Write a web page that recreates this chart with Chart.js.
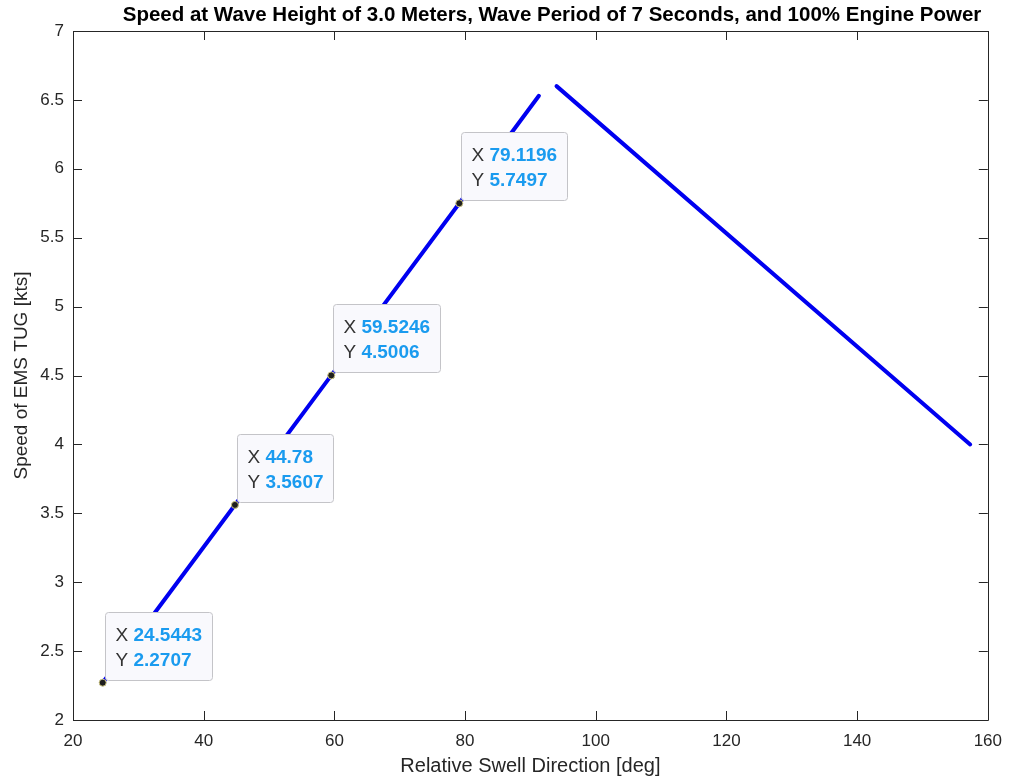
<!DOCTYPE html>
<html>
<head>
<meta charset="utf-8">
<script src="https://cdn.jsdelivr.net/npm/chart.js"></script>
<style>
  html, body { margin: 0; padding: 0; background: #fff; }
  #wrap { width: 1013px; height: 783px; }
</style>
</head>
<body>
<div id="wrap"><canvas id="chart"></canvas></div>
<script>
// speed vs. relative swell direction, rising and falling branches
const swellDirRise = [24.5443, 44.78, 59.5246, 79.1196, 91.3];
const speedRise = [2.2707, 3.5607, 4.5006, 5.7497, 6.53];
const swellDirFall = [94.0, 157.3];
const speedFall = [6.6, 4.0];
// data tips sit on these points of the rising branch
const tipIdx = [0, 1, 2, 3];
const xTicks = [20, 40, 60, 80, 100, 120, 140, 160];
const yTicks = [2, 2.5, 3, 3.5, 4, 4.5, 5, 5.5, 6, 6.5, 7];

const titleText = 'Speed at Wave Height of 3.0 Meters, Wave Period of 7 Seconds, and 100% Engine Power';
const axisCol = '#262626';
const FONT = '"Liberation Sans", Arial, Helvetica, sans-serif';

function pts(xs, ys) {
    return xs.map((x, i) => ({x: x, y: ys[i]}));
}

// box outline with inward ticks on all four sides, plus the title
const framePlugin = {
    id: 'frame',
    afterDraw(chart) {
        const ctx = chart.ctx;
        const a = chart.chartArea;
        const xs = chart.scales.x, ys = chart.scales.y;
        const tl = 9;
        ctx.save();
        ctx.strokeStyle = axisCol;
        ctx.lineWidth = 1;
        ctx.beginPath();
        ctx.rect(Math.round(a.left) + 0.5, Math.round(a.top) + 0.5,
                 Math.round(a.right - a.left), Math.round(a.bottom - a.top));
        xTicks.forEach(v => {
            const px = Math.round(xs.getPixelForValue(v)) + 0.5;
            ctx.moveTo(px, a.bottom); ctx.lineTo(px, a.bottom - tl);
            ctx.moveTo(px, a.top); ctx.lineTo(px, a.top + tl);
        });
        yTicks.forEach(v => {
            const py = Math.round(ys.getPixelForValue(v)) + 0.5;
            ctx.moveTo(a.left, py); ctx.lineTo(a.left + tl, py);
            ctx.moveTo(a.right, py); ctx.lineTo(a.right - tl, py);
        });
        ctx.stroke();

        ctx.fillStyle = '#000';
        ctx.font = 'bold 20.5px ' + FONT;
        ctx.textAlign = 'center';
        ctx.textBaseline = 'middle';
        ctx.fillText(titleText, 552, 15);
        ctx.restore();
    }
};

// data tip boxes with marker dots
const tipPlugin = {
    id: 'tips',
    afterDatasetsDraw(chart) {
        const ctx = chart.ctx;
        const xs = chart.scales.x, ys = chart.scales.y;
        ctx.save();
        tipIdx.forEach(i => {
            const px = xs.getPixelForValue(swellDirRise[i]);
            const py = ys.getPixelForValue(speedRise[i]);
            const rows = [['X ', String(swellDirRise[i])], ['Y ', String(speedRise[i])]];
            ctx.font = '19px ' + FONT;
            const lw = ctx.measureText('X ').width;
            ctx.font = 'bold 19px ' + FONT;
            const vw = Math.max(...rows.map(r => ctx.measureText(r[1]).width));
            const w = Math.round(lw + vw + 20);
            const h = 68;
            const bx = Math.round(px) + 2.5;
            const by = Math.round(py) - 2.5 - h;

            ctx.beginPath();
            ctx.roundRect(bx, by, w, h, 3);
            ctx.fillStyle = '#f9f9fd';
            ctx.fill();
            ctx.strokeStyle = '#c4c4c8';
            ctx.lineWidth = 1;
            ctx.stroke();

            ctx.textBaseline = 'middle';
            ctx.textAlign = 'left';
            rows.forEach((r, k) => {
                const ty = by + 23 + k * 25;
                ctx.font = '19px ' + FONT;
                ctx.fillStyle = '#333333';
                ctx.fillText(r[0], bx + 10, ty);
                ctx.font = 'bold 19px ' + FONT;
                ctx.fillStyle = '#1a9bef';
                ctx.fillText(r[1], bx + 10 + lw, ty);
            });

            ctx.beginPath();
            ctx.arc(px, py, 3.5, 0, Math.PI * 2);
            ctx.fillStyle = '#1e1e1e';
            ctx.fill();
            ctx.strokeStyle = '#c8c080';
            ctx.lineWidth = 1;
            ctx.stroke();
        });
        ctx.restore();
    }
};

new Chart(document.getElementById('chart'), {
    type: 'scatter',
    data: {
        datasets: [{
            data: pts(swellDirRise, speedRise),
            showLine: true,
            borderColor: '#0000f0',
            borderWidth: 4,
            pointRadius: 0,
            borderCapStyle: 'round'
        }, {
            data: pts(swellDirFall, speedFall),
            showLine: true,
            borderColor: '#0000f0',
            borderWidth: 4,
            pointRadius: 0,
            borderCapStyle: 'round'
        }]
    },
    options: {
        responsive: true,
        maintainAspectRatio: false,
        animation: false,
        layout: { padding: { top: 31, right: 23, left: 0, bottom: 0 } },
        plugins: { legend: { display: false }, tooltip: { enabled: false } },
        scales: {
            x: {
                type: 'linear',
                min: 20, max: 160,
                afterBuildTicks: s => { s.ticks = xTicks.map(v => ({value: v})); },
                afterFit: s => { s.height = 63; },
                grid: { display: false, drawTicks: false },
                border: { display: false },
                ticks: { color: axisCol, font: { family: FONT, size: 17 }, padding: 11, maxRotation: 0,
                         callback: v => String(v) },
                title: { display: true, text: 'Relative Swell Direction [deg]', color: axisCol,
                         font: { family: FONT, size: 20 }, padding: { top: 0, bottom: 5 } }
            },
            y: {
                type: 'linear',
                min: 2, max: 7,
                afterBuildTicks: s => { s.ticks = yTicks.map(v => ({value: v})); },
                afterFit: s => { s.width = 73; },
                grid: { display: false, drawTicks: false },
                border: { display: false },
                ticks: { color: axisCol, font: { family: FONT, size: 17 }, padding: 9,
                         callback: v => String(v) },
                title: { display: true, text: 'Speed of EMS TUG [kts]', color: axisCol,
                         font: { family: FONT, size: 19 }, padding: { top: 10, bottom: 0 } }
            }
        }
    },
    plugins: [framePlugin, tipPlugin]
});
</script>
</body>
</html>
